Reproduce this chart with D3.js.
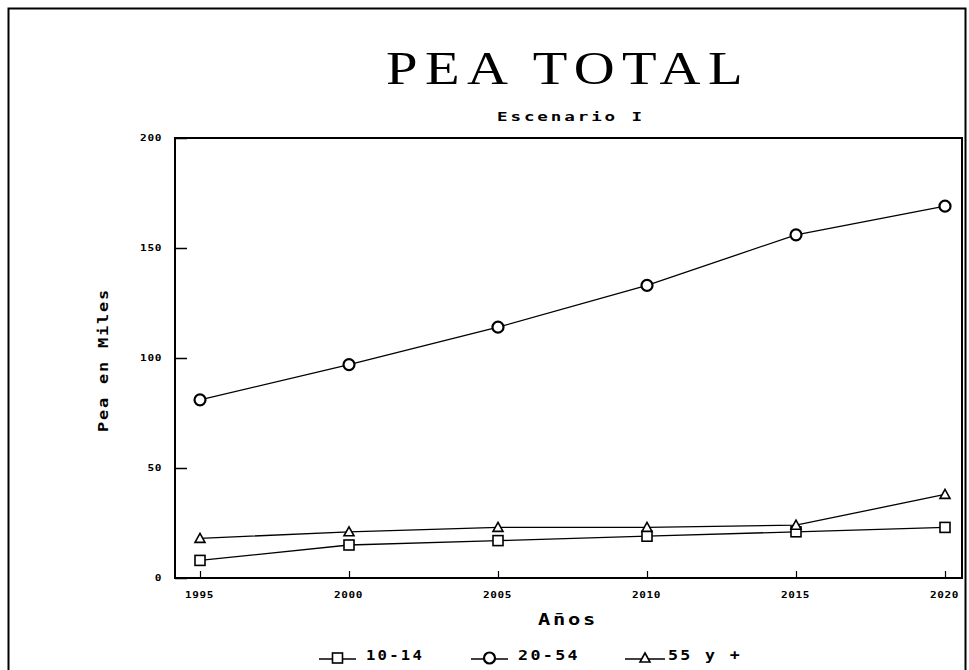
<!DOCTYPE html>
<html>
<head>
<meta charset="utf-8">
<script src="https://cdn.jsdelivr.net/npm/d3@7"></script>
<style>
  body { margin: 0; background: #fff; }
  svg { display: block; }
  .mono { font-family: "DejaVu Sans Mono", "Liberation Mono", monospace; }
  .serif { font-family: "Liberation Serif", "DejaVu Serif", serif; }
</style>
</head>
<body>
<svg id="chart" width="969" height="670"></svg>
<script>
// data
var years = [1995, 2000, 2005, 2010, 2015, 2020]
var yTicks = [0, 50, 100, 150, 200]
var grp1014 = [8, 15, 17, 19, 21, 23]
var grp2054 = [81, 97, 114, 133, 156, 169]
var grp55 = [18, 21, 23, 23, 24, 38]
var seriesNames = ['10-14', '20-54', '55 y +']
var seriesSymbols = ['square', 'circle', 'triangle']

var svg = d3.select('#chart')

// stretched text, the plotter font is wide and heavy
function wideText (sel, len, spacing) {
  return sel.attr('textLength', len)
    .attr('lengthAdjust', 'spacingAndGlyphs')
    .attr('letter-spacing', spacing || 0)
}

// outer frame
svg.append('rect')
  .attr('x', 8.5).attr('y', 8.5)
  .attr('width', 957).attr('height', 670)
  .attr('fill', 'none').attr('stroke', '#000').attr('stroke-width', 2)

var plot = { left: 175, top: 138, right: 962, bottom: 578 }

var x = d3.scalePoint().domain(years).range([200, 945])
var y = d3.scaleLinear().domain([0, 200]).range([plot.bottom, plot.top])

// plot box
svg.append('rect')
  .attr('x', plot.left).attr('y', plot.top)
  .attr('width', plot.right - plot.left).attr('height', plot.bottom - plot.top)
  .attr('fill', 'none').attr('stroke', '#000').attr('stroke-width', 2)

// y axis, ticks pointing in
var yAxis = svg.append('g')
  .attr('transform', 'translate(' + plot.left + ',0)')
  .call(d3.axisRight(y).tickValues(yTicks).tickSize(12).tickFormat(''))
yAxis.select('.domain').remove()
yAxis.selectAll('line').attr('stroke-width', 1.5)

svg.selectAll('.ylab')
  .data(yTicks)
  .enter().append('text')
  .attr('class', 'mono ylab')
  .attr('x', function (d) { return 162 - String(d).length * 7.3 })
  .attr('y', function (d) { return y(d) + 3 })
  .attr('font-size', 9).attr('font-weight', 'bold')
  .call(function (s) { s.each(function (d) { wideText(d3.select(this), String(d).length * 7.3, 0.5) }) })
  .text(function (d) { return d })

// x axis, ticks pointing up
var xAxis = svg.append('g')
  .attr('transform', 'translate(0,' + plot.bottom + ')')
  .call(d3.axisTop(x).tickSize(7).tickFormat(''))
xAxis.select('.domain').remove()
xAxis.selectAll('line').attr('stroke-width', 1.2)

svg.selectAll('.xlab')
  .data(years)
  .enter().append('text')
  .attr('class', 'mono xlab')
  .attr('x', function (d) { return x(d) - 15 }).attr('y', 598)
  .attr('font-size', 9).attr('font-weight', 'bold')
  .call(wideText, 29, 0.5)
  .text(function (d) { return d })

// titles
svg.append('text').attr('class', 'serif')
  .attr('x', 386).attr('y', 84)
  .attr('font-size', 46)
  .call(wideText, 364, 6)
  .text('PEA TOTAL')
svg.append('text').attr('class', 'mono')
  .attr('x', 497).attr('y', 121)
  .attr('font-size', 12).attr('font-weight', 'bold')
  .call(wideText, 148, 2)
  .text('Escenario I')
svg.append('text').attr('class', 'mono')
  .attr('x', 538).attr('y', 625)
  .attr('font-size', 15).attr('font-weight', 'bold')
  .call(wideText, 60, 2)
  .text('Años')
svg.append('text').attr('class', 'mono')
  .attr('transform', 'translate(108,432) rotate(-90)')
  .attr('font-size', 14).attr('font-weight', 'bold')
  .call(wideText, 144, 1.5)
  .text('Pea en Miles')

// lines and markers
var allSeries = [grp1014, grp2054, grp55]
var line = d3.line()
  .x(function (d, i) { return x(years[i]) })
  .y(function (d) { return y(d) })

function drawSymbol (g, kind, cx, cy) {
  if (kind === 'square') {
    g.append('rect').attr('x', cx - 5).attr('y', cy - 5).attr('width', 10).attr('height', 10)
      .attr('fill', '#fff').attr('stroke', '#000').attr('stroke-width', 1.6)
  } else if (kind === 'circle') {
    g.append('circle').attr('cx', cx).attr('cy', cy).attr('r', 5.5)
      .attr('fill', '#fff').attr('stroke', '#000').attr('stroke-width', 2.2)
  } else {
    g.append('path')
      .attr('d', 'M' + cx + ',' + (cy - 5) + 'L' + (cx + 5) + ',' + (cy + 4) + 'L' + (cx - 5) + ',' + (cy + 4) + 'Z')
      .attr('fill', '#fff').attr('stroke', '#000').attr('stroke-width', 1.6)
  }
}

allSeries.forEach(function (vals, s) {
  svg.append('path')
    .attr('d', line(vals))
    .attr('fill', 'none').attr('stroke', '#000').attr('stroke-width', 1.3)
  var g = svg.append('g')
  vals.forEach(function (v, i) {
    drawSymbol(g, seriesSymbols[s], x(years[i]), y(v))
  })
})

// legend
var legLine = [[319, 356], [471, 508], [625, 665]]
var legText = [[366, 58], [518, 62], [668, 74]]
seriesNames.forEach(function (name, s) {
  var ly = 659
  var l = legLine[s]
  svg.append('line').attr('x1', l[0]).attr('x2', l[1]).attr('y1', ly).attr('y2', ly)
    .attr('stroke', '#000').attr('stroke-width', 1.3)
  var g = svg.append('g')
  drawSymbol(g, seriesSymbols[s], (l[0] + l[1]) / 2, ly - 1)
  svg.append('text').attr('class', 'mono')
    .attr('x', legText[s][0]).attr('y', ly + 1)
    .attr('font-size', 14).attr('font-weight', 'bold')
    .call(wideText, legText[s][1], 2)
    .text(name)
})
</script>
</body>
</html>
